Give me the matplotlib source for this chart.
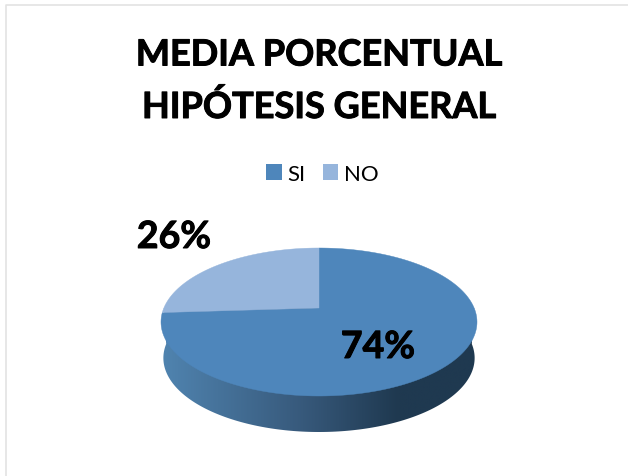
import numpy as np
import matplotlib
matplotlib.use('Agg')
import matplotlib.pyplot as plt
import matplotlib.patheffects as pe
from matplotlib.colors import LinearSegmentedColormap
from matplotlib.patches import Patch, Polygon

plt.rcParams['font.family'] = ['Lato', 'DejaVu Sans']

categories = ['SI', 'NO']
values = [74, 26]
colors = ['#4e86bb', '#96b5dc']
title_lines = ['MEDIA PORCENTUAL', 'HIPÓTESIS GENERAL']

# pie geometry in pixels, top of the image is y = 0
cx, cy = 319, 309
half_w = 158
back, front = 60, 88
depth = 36

# slight perspective, the centre of the disc sits above the middle of the ellipse
k = (front - back) / (front + back)
a = back * (1 + k)


def project(theta):
    # theta is clockwise from the top of the disc
    u, v = np.sin(theta), np.cos(theta)
    w = 1 + k * v
    x = cx + half_w * np.sqrt(1 - k ** 2) * u / w
    y = cy - a * v / w
    return x, y


def wedge(start, end):
    t = np.linspace(start, end, 200)
    x, y = project(t)
    return np.column_stack([np.r_[cx, x], np.r_[cy, y]])


heavy = [pe.withStroke(linewidth=0.7, foreground='black')]

fig = plt.figure(figsize=(6.28, 4.77), dpi=100)
ax = fig.add_axes([0, 0, 1, 1])

# chart border, only top and left are in the picture
ax.plot([6, 6, 628], [477, 6, 6], color='#e3e3e3', linewidth=1.2)

# side of the pie with the left to right shading
t = np.linspace(np.pi / 2, 3 * np.pi / 2, 200)
ex, ey = project(t)
side_x = np.r_[ex[0], ex * 0.985 + cx * 0.015, ex[-1]]
side_y = np.r_[ey[0], ey + depth, ey[-1]]
shade = LinearSegmentedColormap.from_list(
    'side', [(0, '#5084b0'), (0.45, '#37597b'), (0.75, '#1f3950'), (1, '#1f3950')])
grad = np.linspace(0, 1, 256).reshape(1, -1)
img = ax.imshow(grad, cmap=shade, extent=[161, 477, 440, 300], aspect='auto', zorder=2)
outline = Polygon(np.column_stack([side_x, side_y]), closed=True,
                  facecolor='none', edgecolor='none', transform=ax.transData)
ax.add_patch(outline)
img.set_clip_path(outline)

# top of the pie
angle = 0
for val, col in zip(values, colors):
    end = angle + 2 * np.pi * val / sum(values)
    ax.add_patch(Polygon(wedge(angle, end), closed=True, facecolor=col,
                         edgecolor=col, linewidth=0.3, zorder=3))
    angle = end

ax.text(378, 348, f'{values[0]}%', fontsize=27, fontweight='bold', ha='center',
        va='center', color='black', zorder=4, path_effects=heavy)
ax.text(174, 238, f'{values[1]}%', fontsize=27, fontweight='bold', ha='center',
        va='center', color='black', zorder=4, path_effects=heavy)

ax.text(319, 56, title_lines[0], fontsize=26, fontweight='bold', ha='center', va='center',
        path_effects=heavy)
ax.text(319, 108, title_lines[1], fontsize=26, fontweight='bold', ha='center', va='center',
        path_effects=heavy)

handles = [Patch(facecolor=c, edgecolor='none', label=n) for c, n in zip(colors, categories)]
ax.legend(handles=handles, ncol=2, frameon=False, loc='center',
          bbox_to_anchor=(322.5, 175), bbox_transform=ax.transData, fontsize=16,
          handlelength=0.68, handleheight=0.7, handletextpad=0.27, columnspacing=0.77)

ax.set_xlim(0, 628)
ax.set_ylim(477, 0)
ax.axis('off')

fig.savefig('out.png', dpi=100, facecolor='white')
plt.close(fig)
